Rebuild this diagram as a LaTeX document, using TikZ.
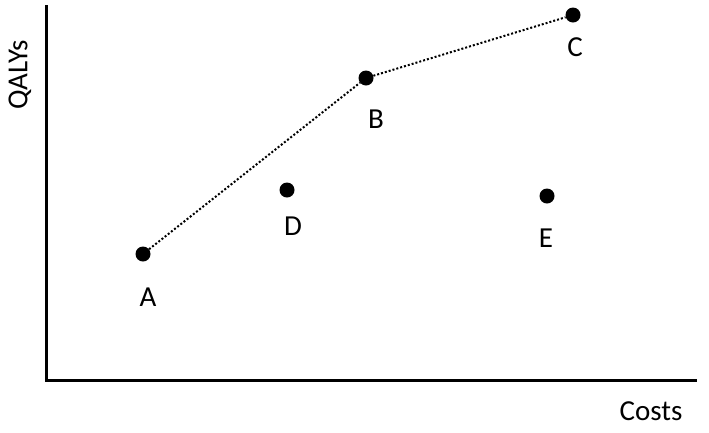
\documentclass[tikz,border=0pt]{standalone}
\usepackage{fontspec}
\setmainfont{Carlito}
\begin{document}
\begin{tikzpicture}[x=1pt,y=-1pt,
  dot/.style={circle,fill=black,inner sep=0pt,minimum size=15pt},
  lbl/.style={font=\fontsize{29}{32}\selectfont},
  axis/.style={line width=3pt}]
\useasboundingbox (0,0) rectangle (709,432);
\coordinate (top) at (46,5);
\coordinate (orig) at (46,380);
\coordinate (right) at (697,380);
\draw[axis] (top) -- (orig) -- (right);
\node[dot] (A) at (143,254) {};
\node[dot] (B) at (366,78) {};
\node[dot] (C) at (573,15) {};
\node[dot] (D) at (287,190) {};
\node[dot] (E) at (547,196) {};
\draw[line width=2pt,dotted] (A) -- (B) -- (C);
\node[lbl] at (148,297) {A};
\node[lbl] at (376,119) {B};
\node[lbl] at (575,47) {C};
\node[lbl] at (293,226) {D};
\node[lbl] at (546,238) {E};
\node[lbl,rotate=90] at (20,75) {QALYs};
\node[lbl] at (651,411) {Costs};
\end{tikzpicture}
\end{document}
